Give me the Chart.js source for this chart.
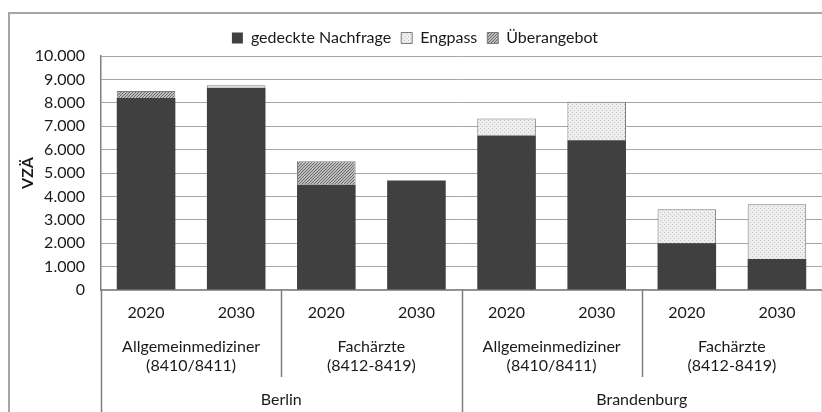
<!DOCTYPE html>
<html lang="de">
<head>
<meta charset="UTF-8">
<title>VZÄ Berlin / Brandenburg</title>
<script src="https://cdn.jsdelivr.net/npm/chart.js"></script>
<style>
  html, body { margin: 0; padding: 0; background: #fff; }
  #wrap { position: relative; width: 822px; height: 412px; }
</style>
</head>
<body>
<div id="wrap"><canvas id="chart"></canvas></div>
<script>
// data
const years = ['2020', '2030', '2020', '2030', '2020', '2030', '2020', '2030'];
const subgroups = [['Allgemeinmediziner', '(8410/8411)'], ['Fachärzte', '(8412-8419)'],
                   ['Allgemeinmediziner', '(8410/8411)'], ['Fachärzte', '(8412-8419)']];
const regions = ['Berlin', 'Brandenburg'];
const gedeckt = [8200, 8640, 4500, 4680, 6600, 6400, 2000, 1330];
const engpass = [0, 110, 0, 0, 730, 1650, 1450, 2330];
const ueberangebot = [300, 0, 1000, 0, 0, 0, 0, 0];
const yTicks = [0, 1000, 2000, 3000, 4000, 5000, 6000, 7000, 8000, 9000, 10000];

const FONT = 'Lato, "Open Sans", sans-serif';

// fill patterns
function dotPattern() {
  const c = document.createElement('canvas');
  c.width = 4; c.height = 4;
  const g = c.getContext('2d');
  g.fillStyle = '#eeeeee';
  g.fillRect(0, 0, 4, 4);
  g.fillStyle = '#c4c4c4';
  g.fillRect(0, 0, 1, 1);
  g.fillRect(2, 2, 1, 1);
  return g.createPattern(c, 'repeat');
}
function hatchPattern() {
  const c = document.createElement('canvas');
  c.width = 3; c.height = 3;
  const g = c.getContext('2d');
  g.fillStyle = '#bdbdbd';
  g.fillRect(0, 0, 3, 3);
  g.fillStyle = '#6a6a6a';
  for (let i = 0; i < 3; i++) g.fillRect(2 - i, i, 1, 1);
  return g.createPattern(c, 'repeat');
}

// group labels, separators and frame
const groupAxis = {
  id: 'groupAxis',
  beforeDraw(chart) {
    const ctx = chart.ctx;
    ctx.save();
    ctx.strokeStyle = '#a6a6a6';
    ctx.lineWidth = 2;
    ctx.beginPath();
    ctx.moveTo(9, 412);
    ctx.lineTo(9, 13);
    ctx.lineTo(822, 13);
    ctx.stroke();
    ctx.restore();
  },
  afterDraw(chart) {
    const ctx = chart.ctx;
    const x = chart.scales.x;
    const area = chart.chartArea;
    const px = i => x.getPixelForTick(i);
    const edge = i => {
      if (i === 0) return area.left;
      if (i === years.length) return area.right;
      return (px(i - 1) + px(i)) / 2;
    };
    ctx.save();
    ctx.strokeStyle = '#7f7f7f';
    ctx.lineWidth = 1.5;
    for (let i = 0; i <= years.length; i += 2) {
      const e = Math.round(edge(i)) + 0.5;
      const long = i % 4 === 0;
      ctx.beginPath();
      ctx.moveTo(e, area.bottom);
      ctx.lineTo(e, long ? 412 : 377);
      ctx.stroke();
    }
    ctx.fillStyle = '#1a1a1a';
    ctx.font = '16px ' + FONT;
    ctx.textAlign = 'center';
    ctx.textBaseline = 'middle';
    subgroups.forEach((lines, k) => {
      const cx = (px(2 * k) + px(2 * k + 1)) / 2;
      ctx.fillText(lines[0], cx, 347);
      ctx.fillText(lines[1], cx, 366);
    });
    regions.forEach((r, k) => {
      const cx = (edge(4 * k) + edge(4 * k + 4)) / 2;
      ctx.fillText(r, cx, 400);
    });
    ctx.restore();
  }
};

const chart = new Chart(document.getElementById('chart'), {
  type: 'bar',
  data: {
    labels: years,
    datasets: [
      { label: 'gedeckte Nachfrage', data: gedeckt, backgroundColor: '#404040',
        borderColor: '#404040', borderWidth: 0 },
      { label: 'Engpass', data: engpass, backgroundColor: dotPattern(),
        borderColor: '#7a7a7a', borderWidth: 1 },
      { label: 'Überangebot', data: ueberangebot, backgroundColor: hatchPattern(),
        borderColor: '#7a7a7a', borderWidth: 1 }
    ]
  },
  options: {
    responsive: true,
    maintainAspectRatio: false,
    animation: false,
    devicePixelRatio: 1,
    layout: { padding: { left: 8, right: 0, top: 20, bottom: 0 } },
    datasets: { bar: { barPercentage: 0.65, categoryPercentage: 1 } },
    plugins: {
      legend: {
        position: 'top',
        labels: {
          font: { family: FONT, size: 16 }, color: '#1a1a1a',
          boxWidth: 11, boxHeight: 11, padding: 10
        }
      },
      tooltip: { enabled: false }
    },
    scales: {
      x: {
        stacked: true,
        grid: { display: false, drawTicks: false },
        border: { color: '#8c8c8c', width: 1.5 },
        ticks: { font: { family: FONT, size: 16 }, color: '#1a1a1a', padding: 13, maxRotation: 0 },
        afterFit: s => { s.height = 122; }
      },
      y: {
        stacked: true,
        min: 0, max: 10000,
        afterBuildTicks: s => { s.ticks = yTicks.map(v => ({ value: v })); },
        grid: { color: '#a6a6a6', lineWidth: 1, drawTicks: false },
        border: { color: '#7f7f7f', width: 1.5 },
        ticks: {
          font: { family: FONT, size: 16 }, color: '#1a1a1a', padding: 16,
          callback: v => v.toLocaleString('de-DE')
        },
        title: { display: true, text: 'VZÄ', font: { family: FONT, size: 16, weight: 'bold' },
                 color: '#1a1a1a', padding: { top: 10, bottom: 0 } },
        afterFit: s => { s.width = 93; }
      }
    }
  },
  plugins: [groupAxis]
});
</script>
</body>
</html>
